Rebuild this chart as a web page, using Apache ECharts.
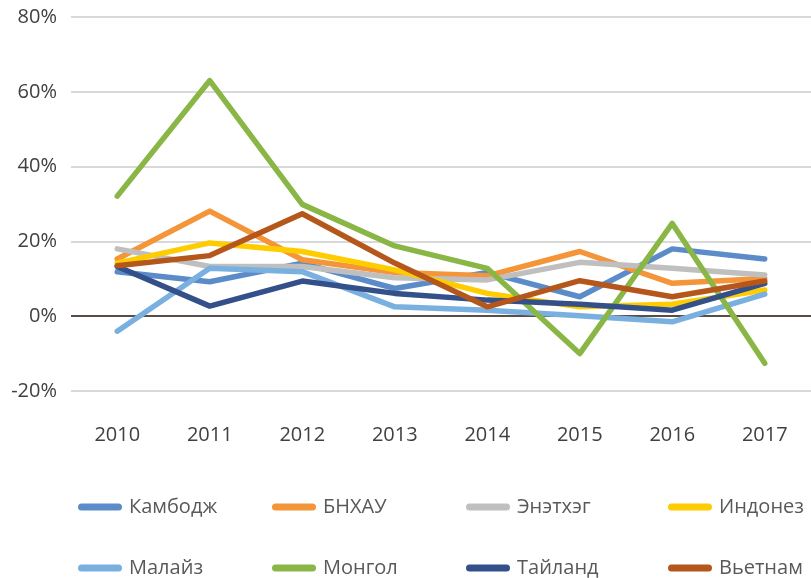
<!DOCTYPE html>
<html>
<head>
<meta charset="utf-8">
<style>
  html, body { margin: 0; padding: 0; background: #fff; }
  #chart-panel { width: 811px; height: 578px; }
</style>
<script src="https://cdn.jsdelivr.net/npm/echarts@6/dist/echarts.min.js"></script>
</head>
<body>
<div id="chart-panel"></div>
<script>
var years = ['2010', '2011', '2012', '2013', '2014', '2015', '2016', '2017'];

var cambodia  = [11.9, 9.2, 14.2, 7.4, 11.7, 5.2, 18.0, 15.3];
var china     = [15.3, 28.1, 15.1, 11.7, 10.8, 17.3, 8.8, 10.1];
var india     = [18.0, 13.3, 13.3, 10.3, 9.7, 14.4, 12.8, 11.0];
var indonesia = [14.2, 19.6, 17.3, 12.4, 6.1, 2.5, 3.2, 7.0];
var malaysia  = [-4.0, 12.8, 11.9, 2.5, 1.6, 0.1, -1.5, 5.9];
var mongolia  = [32.1, 63.0, 29.9, 18.8, 12.8, -10.0, 24.8, -12.6];
var thailand  = [13.3, 2.7, 9.4, 6.1, 4.3, 3.2, 1.6, 8.8];
var vietnam   = [13.5, 16.2, 27.4, 14.2, 2.5, 9.5, 5.2, 9.4];

var names  = ['Камбодж', 'БНХАУ', 'Энэтхэг', 'Индонез', 'Малайз', 'Монгол', 'Тайланд', 'Вьетнам'];
var colors = ['#5b8bc9', '#f39538', '#bfbfbf', '#ffcc00', '#7ab0e0', '#8ab646', '#33508a', '#b5571a'];
var values = [cambodia, china, india, indonesia, malaysia, mongolia, thailand, vietnam];

// legend positions: 4 columns, 2 rows
var legendLeft = [78, 272, 466, 668];
var legendTop = [497, 558];
// pill shaped legend marker (line with round caps)
var pill = 'path://M3.5,0 L40.5,0 A3.5,3.5 0 0 1 40.5,7 L3.5,7 A3.5,3.5 0 0 1 3.5,0 Z';

var legends = [];
var series = [];
for (var i = 0; i < names.length; i++) {
    legends.push({
        data: [names[i]],
        left: legendLeft[i % 4],
        top: legendTop[Math.floor(i / 4)],
        padding: 0,
        icon: pill,
        itemWidth: 44,
        itemHeight: 7,
        itemGap: 0,
        selectedMode: false,
        textStyle: { fontFamily: 'Open Sans', fontSize: 20, color: '#595959', padding: [0, 0, 0, 2] }
    });
    series.push({
        name: names[i],
        type: 'line',
        data: values[i],
        showSymbol: false,
        symbol: 'none',
        smooth: false,
        z: 3,
        lineStyle: { color: colors[i], width: 5.5, cap: 'round', join: 'round' },
        itemStyle: { color: colors[i] }
    });
}

// zero line
series[0].markLine = {
    silent: true,
    symbol: 'none',
    label: { show: false },
    lineStyle: { color: '#5a4d46', width: 2, type: 'solid' },
    data: [{ yAxis: 0 }],
    z: 2
};

var option = {
    animation: false,
    legend: legends,
    grid: {
        left: 71,
        top: 17,
        width: 744,
        bottom: 187
    },
    xAxis: {
        type: 'category',
        data: years,
        boundaryGap: true,
        axisLine: { show: false },
        axisTick: { show: false },
        axisLabel: { margin: 34, fontFamily: 'Open Sans', fontSize: 20, color: '#404040' }
    },
    yAxis: {
        type: 'value',
        min: -20,
        max: 80,
        interval: 20,
        axisLine: { show: false },
        axisTick: { show: false },
        axisLabel: {
            margin: 14,
            fontFamily: 'Open Sans',
            fontSize: 20,
            color: '#404040',
            formatter: '{value}%'
        },
        splitLine: { lineStyle: { color: '#d9d9d9', width: 2 } }
    },
    series: series
};

var myChart = echarts.init(document.getElementById('chart-panel'));
myChart.setOption(option);
</script>
</body>
</html>
